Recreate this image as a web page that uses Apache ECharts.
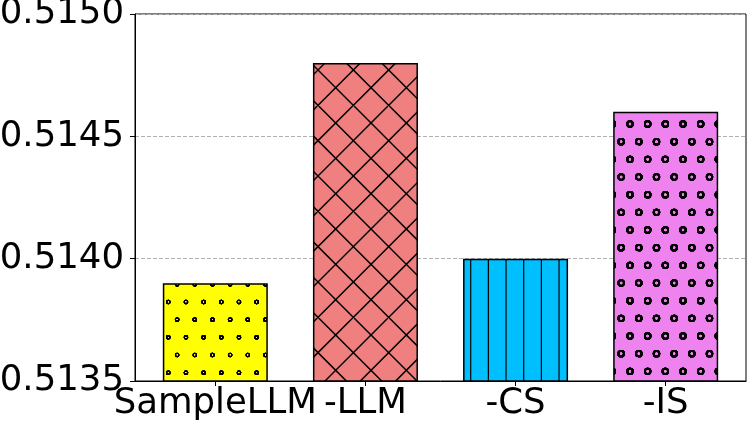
<!DOCTYPE html>
<html>
<head>
<meta charset="utf-8">
<script src="https://cdn.jsdelivr.net/npm/echarts@6/dist/echarts.min.js"></script>
<style>
html,body{margin:0;padding:0;background:#fff;}
#chart{width:747px;height:427px;}
</style>
</head>
<body>
<div id="chart"></div>
<script>
const categories = ['SampleLLM', '-LLM', '-CS', '-IS'];
const values = [0.5139, 0.5148, 0.5140, 0.5146];
const yTicks = [0.5135, 0.5140, 0.5145, 0.5150];

const T = 106, S = T / 6;
function tile(bg, draw) {
  const c = document.createElement('canvas');
  c.width = T; c.height = T;
  const ctx = c.getContext('2d');
  ctx.fillStyle = bg; ctx.fillRect(0, 0, T, T);
  ctx.strokeStyle = '#000';
  draw(ctx);
  return c;
}
function mod(a, m) { return ((a % m) + m) % m; }
function rings(x0, y0, r, lw) {
  return function (ctx) {
    ctx.lineWidth = lw;
    for (let j = -8; j <= 8; j++) {
      for (let i = -8; i <= 8; i++) {
        const x = mod(x0 + i * S + j * S / 2, T), y = mod(y0 + j * S, T);
        for (const dx of [-T, 0, T]) for (const dy of [-T, 0, T]) {
          ctx.beginPath(); ctx.arc(x + dx, y + dy, r, 0, Math.PI * 2); ctx.stroke();
        }
      }
    }
  };
}
const patDots = tile('#ffff00', rings(168.3, 302, 1.7, 1.1));
const patO = tile('#ee82ee', rings(630, 124, 2.8, 1.8));
const patV = tile('#00bfff', function (ctx) {
  ctx.lineWidth = 1.2;
  for (let x = mod(470.7, S) - S; x < T + S; x += S) {
    ctx.beginPath(); ctx.moveTo(x, -2); ctx.lineTo(x, T + 2); ctx.stroke();
  }
});
const D = T / 3;
const patX = tile('#f08080', function (ctx) {
  ctx.lineWidth = 1.5;
  for (let c = mod(248, D) - 2 * T; c < 2 * T; c += D) {
    ctx.beginPath(); ctx.moveTo(c, 0); ctx.lineTo(c + T, T); ctx.stroke();
  }
  for (let c = mod(388, D) - 2 * T; c < 3 * T; c += D) {
    ctx.beginPath(); ctx.moveTo(c, 0); ctx.lineTo(c - T, T); ctx.stroke();
  }
});
const patterns = [patDots, patX, patV, patO];

const chart = echarts.init(document.getElementById('chart'));
chart.setOption({
  animation: false,
  grid: { left: 135, right: 1, top: 14, bottom: 46, outerBoundsMode: 'none', containLabel: false,
    show: true, borderColor: '#000', borderWidth: 1, backgroundColor: 'transparent' },
  xAxis: {
    type: 'value', min: -0.535, max: 3.535,
    axisLine: { show: true, onZero: false, lineStyle: { color: '#000', width: 1 } },
    axisTick: { show: true, length: 5, lineStyle: { color: '#000', width: 1 }, customValues: [0, 1, 2, 3] },
    axisLabel: { customValues: [0, 1, 2, 3], margin: 5, color: '#000', fontSize: 35.5, fontFamily: 'DejaVu Sans',
      formatter: function (v) { return categories[Math.round(v)]; } },
    splitLine: { show: false }
  },
  yAxis: {
    type: 'value', min: yTicks[0], max: yTicks[yTicks.length - 1], interval: 0.0005,
    axisLine: { show: true, onZero: false, lineStyle: { color: '#000', width: 1 } },
    axisTick: { show: true, length: 5, lineStyle: { color: '#000', width: 1 } },
    axisLabel: { margin: 11, color: '#000', fontSize: 35.5, fontFamily: 'DejaVu Sans', padding: [3, 0, 0, 0],
      formatter: function (v) { return v.toFixed(4); } },
    splitLine: { show: true, lineStyle: { color: '#b0b0b0', width: 1, type: [4, 2] } }
  },
  series: [{
    type: 'bar',
    barWidth: 105,
    data: values.map(function (v, i) {
      return { value: [i, v], itemStyle: { color: { image: patterns[i], repeat: 'repeat' } } };
    }),
    itemStyle: { borderColor: '#000', borderWidth: 1.5 }
  }]
});
</script>
</body>
</html>
